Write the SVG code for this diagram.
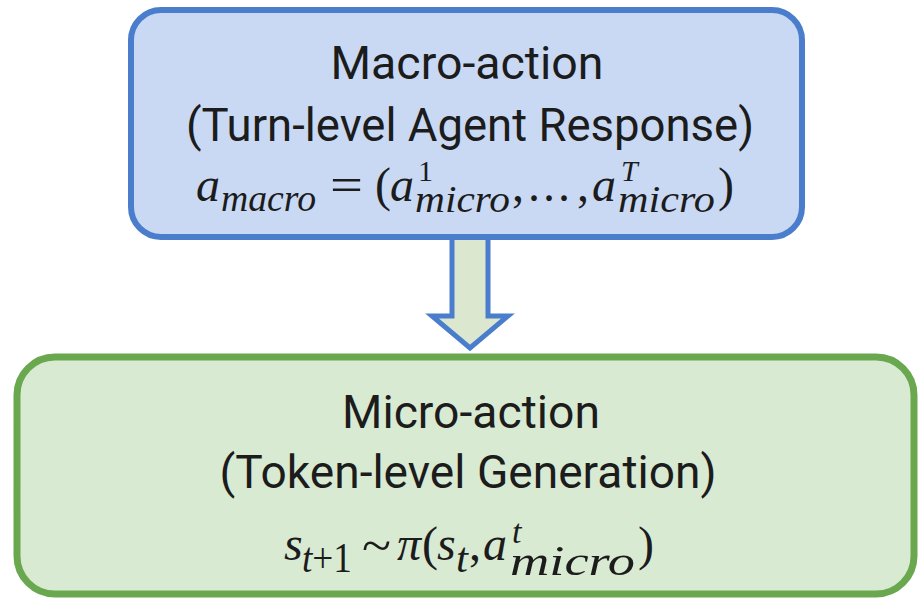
<svg xmlns="http://www.w3.org/2000/svg" width="923" height="600" viewBox="0 0 923 600">
<style>
.lbl{font-family:Roboto,"Liberation Sans",sans-serif;font-size:47px;fill:#1c1c1c;text-anchor:middle}
.m{font-family:"Liberation Serif","DejaVu Serif",serif;font-style:italic;fill:#1c1c1c}
.mu{font-family:"Liberation Serif","DejaVu Serif",serif;fill:#1c1c1c}
.main{font-size:48px}
.sub{font-size:38px}
.bsub{font-size:43px}
</style>
<rect width="923" height="600" fill="#ffffff"/>
<g id="connectors">
<polygon points="452,236 452,316 432,316 470,348 508,316 488,316 488,236" fill="#dbe8cf" stroke="#4a7dcc" stroke-width="5" stroke-linejoin="miter"/>
</g>
<g id="macro">
<rect x="131" y="10" width="671" height="227" rx="30" fill="#c9d9f4" stroke="#4a7dcc" stroke-width="6"/>
<text class="lbl" x="467" y="79" textLength="273" lengthAdjust="spacingAndGlyphs">Macro-action</text>
<text class="lbl" x="470" y="141" textLength="568" lengthAdjust="spacingAndGlyphs">(Turn-level Agent Response)</text>
<text class="m main" x="196" y="201">a</text>
<text class="m sub" x="221" y="211" textLength="95" lengthAdjust="spacingAndGlyphs">macro</text>
<text class="mu" x="330" y="201" font-size="48" textLength="33" lengthAdjust="spacingAndGlyphs">=</text>
<text class="mu main" x="375" y="201">(</text>
<text class="m main" x="390" y="201">a</text>
<text class="mu" x="418" y="181" font-size="30">1</text>
<text class="m sub" x="415" y="212" textLength="95" lengthAdjust="spacingAndGlyphs">micro</text>
<text class="mu main" x="512" y="201">,</text>
<text class="mu main" x="528" y="201" textLength="42" lengthAdjust="spacing">...</text>
<text class="mu main" x="577" y="201">,</text>
<text class="m main" x="592" y="201">a</text>
<text class="m" x="621" y="181" font-size="30">T</text>
<text class="m sub" x="618" y="212" textLength="97" lengthAdjust="spacingAndGlyphs">micro</text>
<text class="mu main" x="718" y="201">)</text>
</g>
<g id="micro">
<rect x="17" y="357" width="897" height="237" rx="38" fill="#d9ead3" stroke="#6aa84f" stroke-width="7"/>
<text class="lbl" x="471" y="428" textLength="258" lengthAdjust="spacingAndGlyphs">Micro-action</text>
<text class="lbl" x="468" y="488" textLength="497" lengthAdjust="spacingAndGlyphs">(Token-level Generation)</text>
<text class="m main" x="284" y="560">s</text>
<text class="m bsub" x="302" y="572" textLength="50" lengthAdjust="spacingAndGlyphs">t<tspan font-style="normal">+1</tspan></text>
<text class="mu" x="362" y="562" font-size="50" textLength="29" lengthAdjust="spacingAndGlyphs">~</text>
<text class="m main" x="397" y="560">π</text>
<text class="mu main" x="422" y="560">(</text>
<text class="m main" x="437" y="560">s</text>
<text class="m bsub" x="456" y="572">t</text>
<text class="mu main" x="469" y="560">,</text>
<text class="m main" x="483" y="560">a</text>
<text class="m" x="512" y="543" font-size="34">t</text>
<text class="m bsub" x="510" y="575" textLength="125" lengthAdjust="spacingAndGlyphs">micro</text>
<text class="mu main" x="638" y="560">)</text>
</g>
</svg>
